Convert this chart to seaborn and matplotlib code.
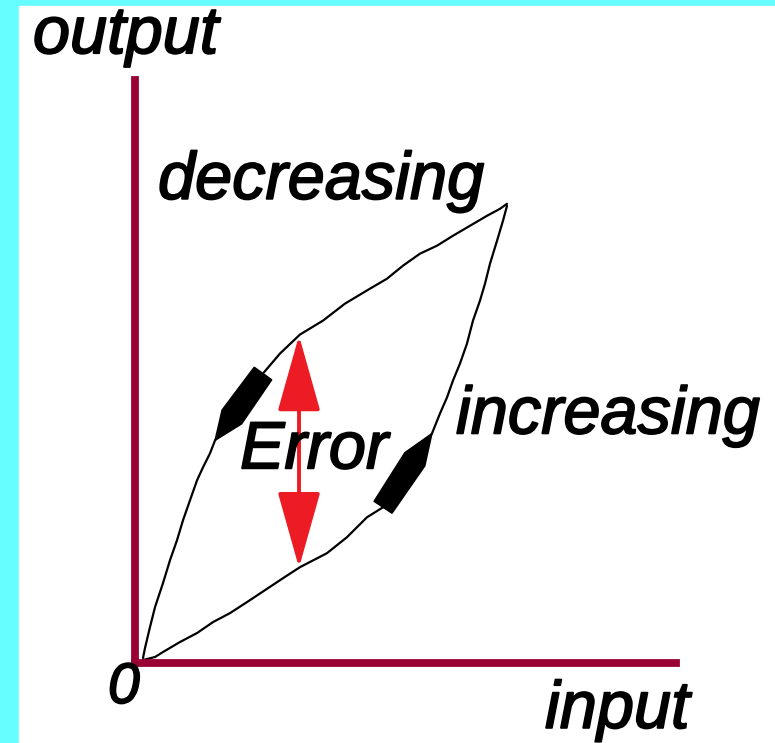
import numpy as np
import pandas as pd
import matplotlib
matplotlib.use('Agg')
import matplotlib.pyplot as plt
import matplotlib.patheffects as pe
import seaborn as sns
from matplotlib.patches import Polygon, Rectangle, FancyArrowPatch

# hysteresis loop (input / output units, 0..10)
upper_x = [0.157, 0.194, 0.286, 0.379, 0.526, 0.656, 0.785, 0.896, 1.025, 1.155, 1.265, 1.394, 1.487,
           1.911, 2.373, 2.687, 3.056, 3.481, 3.887, 4.349, 4.663, 4.958, 5.272, 5.586, 5.882, 6.196,
           6.510, 6.750, 6.879]
upper_y = [0.086, 0.257, 0.616, 0.959, 1.370, 1.764, 2.106, 2.449, 2.791, 3.134, 3.356, 3.596, 3.818,
           4.332, 4.966, 5.308, 5.634, 5.873, 6.164, 6.421, 6.592, 6.815, 7.021, 7.158, 7.329, 7.500,
           7.671, 7.791, 7.877]
lower_x = [0.157, 0.379, 0.526, 0.840, 1.155, 1.450, 1.764, 2.078, 2.743, 3.056, 3.555, 3.924, 4.294,
           4.589, 5.032, 5.494, 5.642, 5.771, 5.882, 6.011, 6.140, 6.251, 6.380, 6.473, 6.565, 6.695,
           6.805, 6.879]
lower_y = [0.051, 0.103, 0.188, 0.360, 0.514, 0.702, 0.856, 1.045, 1.455, 1.644, 1.884, 2.158, 2.500,
           2.671, 3.271, 3.938, 4.281, 4.555, 4.846, 5.137, 5.479, 5.873, 6.216, 6.507, 6.849, 7.243,
           7.586, 7.842]
# direction markers: (tip index, back index) on each branch
upper_head = (12, 14)
lower_head = (15, 13)
error_input = 3.038

axis_color = '#990033'
red = '#ed1c24'

sns.set_style('white')
plt.rcParams['font.family'] = ['Liberation Sans', 'DejaVu Sans']

fig = plt.figure(figsize=(7.75, 7.43), dpi=100, facecolor='#66ffff')
fig.patches.append(Rectangle((19 / 775, 0), 1, 737 / 743, transform=fig.transFigure,
                             color='white', zorder=-1))
ax = fig.add_axes([134.5 / 775, 80 / 743, 541.5 / 775, 583 / 743])
ax.set_xlim(0, 10)
ax.set_ylim(0, 10)
ax.patch.set_alpha(0)
for s in ['top', 'right']:
    ax.spines[s].set_visible(False)
for s in ['left', 'bottom']:
    ax.spines[s].set_color(axis_color)
    ax.spines[s].set_linewidth(5.6)
ax.set_xticks([])
ax.set_yticks([])

df_up = pd.DataFrame({'input': upper_x, 'output': upper_y})
df_lo = pd.DataFrame({'input': lower_x, 'output': lower_y})
sns.lineplot(data=df_up, x='input', y='output', sort=False, estimator=None, color='black', lw=1.6, ax=ax)
sns.lineplot(data=df_lo, x='input', y='output', sort=False, estimator=None, color='black', lw=1.6, ax=ax)
ax.set_xlabel('')
ax.set_ylabel('')


def head(xs, ys, idx, w=12):
    tip, back = ax.transData.transform([[xs[idx[0]], ys[idx[0]]], [xs[idx[1]], ys[idx[1]]]])
    d = back - tip
    n = np.array([-d[1], d[0]]) / np.hypot(*d) * w
    mid = tip + 0.35 * d
    pts = np.array([tip, mid + n, back + n * 0.9, back - n * 0.9, mid - n])
    pts = ax.transData.inverted().transform(pts)
    ax.add_patch(Polygon(pts, closed=True, color='black', zorder=3))


head(upper_x, upper_y, upper_head)
head(lower_x, lower_y, lower_head)

lo = np.interp(error_input, lower_x, lower_y)
hi = np.interp(error_input, upper_x, upper_y)
ax.add_patch(FancyArrowPatch((error_input, lo), (error_input, hi),
                             arrowstyle='<|-|>,head_length=48,head_width=13.5', mutation_scale=1,
                             color=red, lw=2.8, shrinkA=0, shrinkB=0, zorder=4))

tkw = dict(fontsize=48, style='italic', color='black', ha='left', va='baseline', clip_on=False, zorder=5,
           path_effects=[pe.withStroke(linewidth=1.3, foreground='black')])
ax.text(-1.875, 10.46, 'output', **tkw)
ax.text(0.434, 7.962, 'decreasing', **tkw)
ax.text(5.937, 3.938, 'increasing', **tkw)
ax.text(1.948, 3.339, 'Error', **tkw)
ax.text(7.581, -1.113, 'input', **tkw)
ax.text(-0.489, -0.685, '0', **dict(tkw, fontsize=41))

fig.savefig('out.png', dpi=100, facecolor=fig.get_facecolor())
